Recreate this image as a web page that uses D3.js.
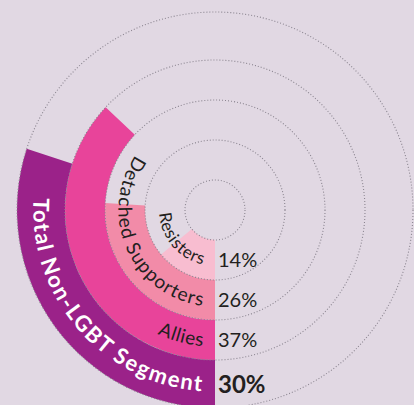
<!DOCTYPE html>
<html>
<head>
<meta charset="utf-8">
<script src="https://cdn.jsdelivr.net/npm/d3@7"></script>
<style>
  html, body { margin: 0; padding: 0; background: #e1d8e3; }
  svg { display: block; }
</style>
</head>
<body>
<svg id="chart" width="414" height="405"></svg>
<script>
// data
const segments = ["Resisters", "Detached Supporters", "Allies", "Total Non-LGBT Segment"];
const shares = [14, 26, 37, 30];
const shareLabels = ["14%", "26%", "37%", "30%"];

const colors = ["#f8bdd0", "#f28ba8", "#e8449a", "#9b2289"];
const textColors = ["#231f20", "#231f20", "#231f20", "#ffffff"];
const fontSizes = [17, 19, 19, 22];
const spacing = [0.7, 1.1, 0.5, 1.7];

const svg = d3.select("#chart");
const width = +svg.attr("width");
const height = +svg.attr("height");
const cx = 215, cy = 210;

svg.append("rect").attr("width", width).attr("height", height).attr("fill", "#e1d8e3");

const g = svg.append("g").attr("transform", `translate(${cx},${cy})`);

// ring index -> radius (last band a bit wider)
const r = d3.scaleLinear().domain([0, 1, 2, 3, 4]).range([30, 70, 110, 150, 198]);
// percent -> angle, starting at 6 o'clock and sweeping clockwise
const angle = d3.scaleLinear().domain([0, 100]).range([Math.PI, 3 * Math.PI]);

const data = segments.map((name, i) => ({ name, value: shares[i], label: shareLabels[i], i }));

const arc = d3.arc()
  .innerRadius(d => r(d.i))
  .outerRadius(d => r(d.i + 1))
  .startAngle(angle(0))
  .endAngle(d => angle(d.value));

g.selectAll("path.bar")
  .data(data)
  .join("path")
  .attr("class", "bar")
  .attr("d", arc)
  .attr("fill", (d, i) => colors[i]);

// dotted guide circles
g.selectAll("circle.grid")
  .data(r.range())
  .join("circle")
  .attr("class", "grid")
  .attr("r", d => d)
  .attr("fill", "none")
  .attr("stroke", "#8b8590")
  .attr("stroke-width", 1.1)
  .attr("stroke-dasharray", "1 2");

// curved names, reading towards the 6 o'clock line
const defs = svg.append("defs");
const sweep = 170 * Math.PI / 180;
const baseR = d => (r(d.i) + r(d.i + 1)) / 2 + fontSizes[d.i] * 0.35;

data.forEach(d => {
  const p = d3.path();
  p.arc(cx, cy, baseR(d), Math.PI / 2 + sweep, Math.PI / 2, true);
  defs.append("path")
    .attr("id", "lbl" + d.i)
    .attr("d", p.toString());
});

svg.selectAll("text.name")
  .data(data)
  .join("text")
  .attr("class", "name")
  .style("font-family", "Lato, 'Noto Sans', sans-serif")
  .style("font-size", d => fontSizes[d.i] + "px")
  .style("font-weight", d => d.i === 3 ? 700 : 400)
  .style("letter-spacing", d => spacing[d.i] + "px")
  .attr("fill", d => textColors[d.i])
  .append("textPath")
  .attr("href", d => "#lbl" + d.i)
  .attr("text-anchor", "end")
  .attr("startOffset", d => baseR(d) * sweep - 12)
  .text(d => d.name);

// percentage labels to the right of the 6 o'clock line
g.selectAll("text.pct")
  .data(data)
  .join("text")
  .attr("class", "pct")
  .attr("x", 3)
  .attr("y", d => (r(d.i) + r(d.i + 1)) / 2)
  .attr("dy", "0.36em")
  .style("font-family", "Lato, 'Noto Sans', sans-serif")
  .style("font-size", d => d.i === 3 ? "24px" : "20px")
  .style("font-weight", d => d.i === 3 ? 700 : 400)
  .attr("fill", "#231f20")
  .text(d => d.label);
</script>
</body>
</html>
